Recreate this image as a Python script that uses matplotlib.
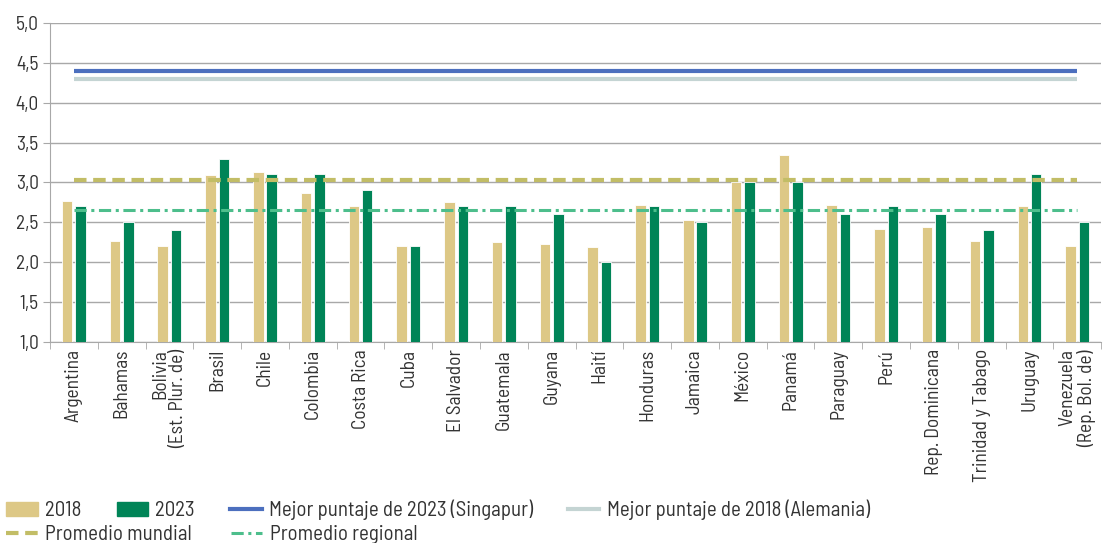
import matplotlib
matplotlib.use("Agg")
import matplotlib.pyplot as plt
from matplotlib import font_manager
import numpy as np
from matplotlib.patches import Patch
from matplotlib.lines import Line2D

# condensed face if it is there, otherwise DejaVu at a smaller size
instaladas = {f.name for f in font_manager.fontManager.ttflist}
if "Barlow Semi Condensed" in instaladas:
    plt.rcParams['font.family'] = ['Barlow Semi Condensed', 'DejaVu Sans']
    fs_tick, fs_leg = 14, 15
else:
    plt.rcParams['font.family'] = ['DejaVu Sans']
    fs_tick, fs_leg = 11.5, 11.5

paises = ["Argentina", "Bahamas", "Bolivia\n(Est. Plur. de)", "Brasil", "Chile",
          "Colombia", "Costa Rica", "Cuba", "El Salvador", "Guatemala", "Guyana",
          "Haití", "Honduras", "Jamaica", "México", "Panamá", "Paraguay", "Perú",
          "Rep. Dominicana", "Trinidad y Tabago", "Uruguay",
          "Venezuela\n(Rep. Bol. de)"]
v2018 = [2.77, 2.27, 2.21, 3.09, 3.13, 2.87, 2.71, 2.20, 2.75, 2.25, 2.23,
         2.19, 2.72, 2.53, 3.01, 3.34, 2.72, 2.42, 2.44, 2.27, 2.71, 2.21]
v2023 = [2.7, 2.5, 2.4, 3.3, 3.1, 3.1, 2.9, 2.2, 2.7, 2.7, 2.6,
         2.0, 2.7, 2.5, 3.0, 3.0, 2.6, 2.7, 2.6, 2.4, 3.1, 2.5]
mejor_2023 = 4.4   # Singapur
mejor_2018 = 4.3   # Alemania
prom_mundial = 3.03
prom_regional = 2.66

c2018 = "#DDC886"
c2023 = "#008457"
c_sing = "#4C6FBE"
c_alem = "#C4D4D3"
c_mund = "#C2BD66"
c_reg = "#4DBE8C"
txt = "#333333"
grid = "#A8A8A8"

fig = plt.figure(figsize=(11.03, 5.43), dpi=100)
ax = fig.add_axes([0.0453, 0.370, 0.953, 0.588])

x = np.arange(len(paises))
w = 0.22
ax.bar(x - 0.14, v2018, w, color=c2018, edgecolor="white", linewidth=0.6, zorder=3)
ax.bar(x + 0.14, v2023, w, color=c2023, edgecolor="white", linewidth=0.6, zorder=3)

x0, x1 = x[0], x[-1]
ax.plot([x0, x1], [mejor_2023, mejor_2023], color=c_sing, lw=3, zorder=4, solid_capstyle="butt")
ax.plot([x0, x1], [mejor_2018, mejor_2018], color=c_alem, lw=3, zorder=4, solid_capstyle="butt")
ax.plot([x0, x1], [prom_mundial, prom_mundial], color=c_mund, lw=3, ls=(0, (3, 1.6)), zorder=4)
ax.plot([x0, x1], [prom_regional, prom_regional], color=c_reg, lw=2.2, ls=(0, (4, 1.5, 1, 1.5)), zorder=4)

ax.set_ylim(1, 5)
ax.set_xlim(-0.5, len(paises) - 0.5)
yt = np.arange(1, 5.01, 0.5)
ax.set_yticks(yt)
ax.set_yticklabels([f"{v:.1f}".replace(".", ",") for v in yt], fontsize=fs_tick, color=txt)
ax.yaxis.grid(True, color=grid, lw=1, zorder=0)

ax.set_xticks(x)
ax.set_xticklabels(paises, rotation=90, fontsize=fs_tick, color=txt, va="top",
                   ha="center", multialignment="right", linespacing=1.0)
ax.set_xticks(np.arange(-0.5, len(paises), 1), minor=True)
ax.tick_params(axis="x", which="major", length=0, pad=5)
ax.tick_params(axis="x", which="minor", length=5, color=grid)
ax.tick_params(axis="y", length=5, color=grid, pad=3)

for s in ["top", "right"]:
    ax.spines[s].set_visible(False)
for s in ["left", "bottom"]:
    ax.spines[s].set_color(grid)

h1 = [Patch(color=c2018), Patch(color=c2023),
      Line2D([], [], color=c_sing, lw=3), Line2D([], [], color=c_alem, lw=3)]
l1 = ["2018", "2023", "Mejor puntaje de 2023 (Singapur)", "Mejor puntaje de 2018 (Alemania)"]
fig.legend(h1, l1, loc="upper left", bbox_to_anchor=(0.002, 0.087), ncol=4,
           frameon=False, fontsize=fs_leg, handlelength=1.5, handletextpad=0.35,
           columnspacing=1.7, borderaxespad=0, borderpad=0.2, labelcolor=txt)
h2 = [Line2D([], [], color=c_mund, lw=3, ls=(0, (3, 1.6))),
      Line2D([], [], color=c_reg, lw=2.2, ls=(0, (4, 1.5, 1, 1.5)))]
l2 = ["Promedio mundial", "Promedio regional"]
fig.legend(h2, l2, loc="upper left", bbox_to_anchor=(0.002, 0.040), ncol=2,
           frameon=False, fontsize=fs_leg, handlelength=1.5, handletextpad=0.35,
           columnspacing=1.9, borderaxespad=0, borderpad=0.2, labelcolor=txt)

fig.savefig("out.png", dpi=100)
